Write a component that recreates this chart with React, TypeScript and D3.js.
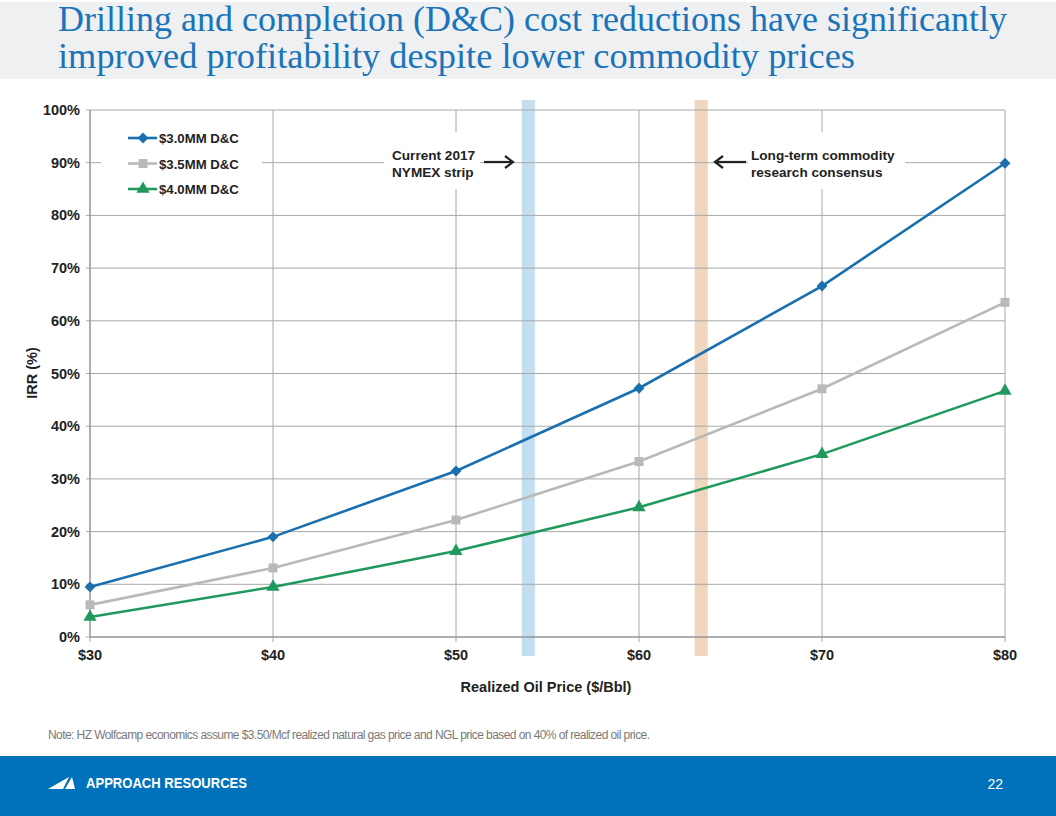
import React from "react";
import * as d3 from "d3";

const prices = [30, 40, 50, 60, 70, 80];
const irr30 = [9.5, 19.0, 31.5, 47.2, 66.6, 89.9];
const irr35 = [6.1, 13.1, 22.2, 33.3, 47.1, 63.5];
const irr40 = [3.8, 9.5, 16.3, 24.6, 34.7, 46.7];
const seriesNames = ["$3.0MM D&C", "$3.5MM D&C", "$4.0MM D&C"];
const yTicks = [0, 10, 20, 30, 40, 50, 60, 70, 80, 90, 100];
const bandCenters = [53.95, 63.4];
const bandHalfWidth = 0.36;

const W = 1056, H = 816;
const x = d3.scaleLinear().domain([30, 80]).range([90, 1005]);
const y = d3.scaleLinear().domain([0, 100]).range([637, 110]);

const colors = ["#1a6faf", "#b9b9b9", "#1f9a5c"];
const bandColors = ["#c3def0", "#f0d6bf"];
const symbols = [d3.symbolDiamond2 ?? d3.symbolDiamond, d3.symbolSquare, d3.symbolTriangle];
const symSizes = [75, 80, 75];

export default function App() {
  const series = [irr30, irr35, irr40];
  const line = d3.line<number>().x((_, i) => x(prices[i])).y((v) => y(v));
  const font = "Arial, 'Liberation Sans', sans-serif";
  const serif = "Georgia, 'Liberation Serif', 'DejaVu Serif', serif";
  return (
    <svg width={W} height={H} style={{ position: "absolute", left: 0, top: 0 }} fontFamily={font}>
      <rect x={0} y={0} width={W} height={H} fill="#fff" />
      {/* title band */}
      <rect x={0} y={2} width={W} height={77} fill="#eef0f2" />
      <text x={58} y={31} fontFamily={serif} fontSize={35} fill="#1b73b9" textLength={949} lengthAdjust="spacingAndGlyphs">
        Drilling and completion (D&amp;C) cost reductions have significantly
      </text>
      <text x={58} y={68} fontFamily={serif} fontSize={35} fill="#1b73b9" textLength={797} lengthAdjust="spacingAndGlyphs">
        improved profitability despite lower commodity prices
      </text>

      {/* bands */}
      {bandCenters.map((c, i) => (
        <rect key={i} x={x(c - bandHalfWidth)} y={100} width={x(c + bandHalfWidth) - x(c - bandHalfWidth)} height={556} fill={bandColors[i]} />
      ))}

      {/* gridlines */}
      {yTicks.map((t) => (
        <line key={"gy" + t} x1={86} x2={x(80)} y1={y(t)} y2={y(t)} stroke="#a8a8a8" strokeWidth={1} />
      ))}
      {prices.map((p) => (
        <line key={"gx" + p} x1={x(p)} x2={x(p)} y1={y(100)} y2={y(0) + 5} stroke="#a8a8a8" strokeWidth={1} />
      ))}
      <line x1={x(30)} x2={x(30)} y1={y(100)} y2={y(0)} stroke="#8c8c8c" />
      <line x1={x(30)} x2={x(80)} y1={y(0)} y2={y(0)} stroke="#8c8c8c" />

      {/* white boxes for legend and annotations */}
      <rect x={101} y={122} width={161} height={82} fill="#fff" />
      <rect x={384} y={132} width={96} height={57} fill="#fff" />
      <rect x={748} y={132} width={157} height={57} fill="#fff" />

      {/* y labels */}
      {yTicks.map((t) => (
        <text key={"ly" + t} x={80} y={y(t) + 5} textAnchor="end" fontSize={14.5} fontWeight="bold" fill="#222">
          {t}%
        </text>
      ))}
      {prices.map((p) => (
        <text key={"lx" + p} x={x(p)} y={660} textAnchor="middle" fontSize={14.5} fontWeight="bold" fill="#222">
          ${p}
        </text>
      ))}
      <text x={546} y={692} textAnchor="middle" fontSize={14.5} fontWeight="bold" fill="#222">
        Realized Oil Price ($/Bbl)
      </text>
      <text transform={`translate(37,${373}) rotate(-90)`} textAnchor="middle" fontSize={14.5} fontWeight="bold" fill="#222">
        IRR (%)
      </text>

      {/* series */}
      {series.map((s, k) => (
        <g key={"s" + k}>
          <path d={line(s) || ""} fill="none" stroke={colors[k]} strokeWidth={2.6} />
          {s.map((v, i) => (
            <path key={i} transform={`translate(${x(prices[i])},${y(v)})`} d={d3.symbol().type(symbols[k]).size(symSizes[k])() || ""} fill={colors[k]} />
          ))}
        </g>
      ))}

      {/* legend */}
      {seriesNames.map((n, k) => (
        <g key={"lg" + k} transform={`translate(0,${138 + k * 25.5})`}>
          <line x1={128} x2={157} y1={0} y2={0} stroke={colors[k]} strokeWidth={2.6} />
          <path transform="translate(143,0)" d={d3.symbol().type(symbols[k]).size(symSizes[k])() || ""} fill={colors[k]} />
          <text x={159} y={5} fontSize={13.2} fontWeight="bold" fill="#222">{n}</text>
        </g>
      ))}

      {/* annotations */}
      <text x={392} y={160} fontSize={13.6} fontWeight="bold" fill="#222">Current 2017</text>
      <text x={392} y={177} fontSize={13.6} fontWeight="bold" fill="#222">NYMEX strip</text>
      <line x1={484} x2={512} y1={162} y2={162} stroke="#222" strokeWidth={2.2} />
      <path d="M505,156 L513,162 L505,168" fill="none" stroke="#222" strokeWidth={2.2} />
      <text x={751} y={160} fontSize={13.6} fontWeight="bold" fill="#222">Long-term commodity</text>
      <text x={751} y={177} fontSize={13.6} fontWeight="bold" fill="#222">research consensus</text>
      <line x1={716} x2={746} y1={162} y2={162} stroke="#222" strokeWidth={2.2} />
      <path d="M723,156 L715,162 L723,168" fill="none" stroke="#222" strokeWidth={2.2} />

      {/* note */}
      <text x={48} y={739} fontSize={12} fill="#7a7a7a" textLength={602} lengthAdjust="spacing">
        Note: HZ Wolfcamp economics assume $3.50/Mcf realized natural gas price and NGL price based on 40% of realized oil price.
      </text>

      {/* footer */}
      <rect x={0} y={756} width={W} height={60} fill="#0072bb" />
      <path d="M48,789 L69,777 L63,789 Z" fill="#fff" />
      <path d="M65,789 L72,777 L75,789 Z" fill="#fff" />
      <text x={86} y={788} fontSize={14} fontWeight="bold" fill="#fff" textLength={161} lengthAdjust="spacingAndGlyphs">APPROACH RESOURCES</text>
      <text x={1003} y={789} fontSize={14} fill="#fff" textAnchor="end">22</text>
    </svg>
  );
}
